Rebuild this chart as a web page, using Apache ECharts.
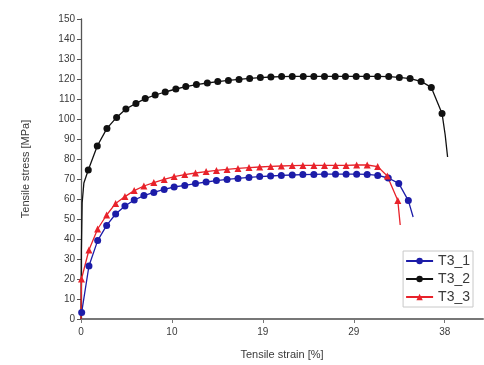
<!DOCTYPE html>
<html>
<head>
<meta charset="utf-8">
<script src="https://cdn.jsdelivr.net/npm/echarts@6/dist/echarts.min.js"></script>
<style>
  html, body { margin: 0; padding: 0; background: #fff; }
  #chart { width: 484px; height: 365px; }
</style>
</head>
<body>
<div id="chart"></div>
<script>
// tick positions on the strain axis (labels are shown rounded)
const strainTicks = [0, 9.5, 19, 28.5, 38];

// T3_1 (blue circles)
const t31Strain = [0.07, 0.83, 1.74, 2.68, 3.62, 4.59, 5.56, 6.57, 7.61, 8.69, 9.73, 10.84, 11.96, 13.07, 14.15, 15.26, 16.4, 17.55, 18.67, 19.81, 20.93, 22.07, 23.18, 24.33, 25.44, 26.59, 27.7, 28.8, 29.9, 31.0, 32.1, 33.2, 34.2];
const t31Stress = [3.3, 26.5, 39.2, 46.8, 52.5, 56.5, 59.5, 61.7, 63.3, 64.8, 66, 66.8, 67.7, 68.5, 69.2, 69.8, 70.3, 70.8, 71.2, 71.5, 71.8, 72.0, 72.2, 72.3, 72.4, 72.4, 72.4, 72.4, 72.3, 71.8, 70.5, 67.8, 59.2];
const t31Tail = [[34.7, 51]];

// T3_2 (black circles)
const t32Head = [[0, 0], [0.04, 35], [0.12, 58], [0.3, 68]];
const t32Strain = [0.76, 1.70, 2.71, 3.72, 4.69, 5.74, 6.71, 7.75, 8.80, 9.91, 10.95, 12.06, 13.20, 14.29, 15.40, 16.51, 17.62, 18.74, 19.84, 20.96, 22.07, 23.22, 24.33, 25.44, 26.56, 27.63, 28.75, 29.85, 31.0, 32.15, 33.26, 34.38, 35.53, 36.60, 37.72];
const t32Stress = [74.5, 86.5, 95.3, 100.8, 105, 107.8, 110.2, 112, 113.5, 115, 116.2, 117.2, 118, 118.7, 119.3, 119.8, 120.3, 120.7, 121, 121.2, 121.3, 121.3, 121.3, 121.3, 121.3, 121.3, 121.3, 121.3, 121.3, 121.2, 120.8, 120.2, 118.8, 115.8, 102.8];
const t32Tail = [[38.05, 92], [38.3, 81]];

// T3_3 (red triangles)
const t33Head = [[0, 0]];
const t33Strain = [0.05, 0.83, 1.74, 2.68, 3.62, 4.59, 5.56, 6.57, 7.61, 8.69, 9.73, 10.84, 11.96, 13.07, 14.15, 15.26, 16.4, 17.55, 18.67, 19.81, 20.93, 22.07, 23.18, 24.33, 25.44, 26.59, 27.7, 28.8, 29.9, 31.0, 32.0, 33.1];
const t33Stress = [20, 34.5, 45, 52, 57.8, 61.2, 64.2, 66.5, 68.2, 69.8, 71.2, 72.2, 73, 73.7, 74.3, 74.8, 75.3, 75.7, 76.0, 76.3, 76.5, 76.7, 76.8, 76.8, 76.8, 76.8, 76.8, 77, 77, 76.2, 71.5, 59.2];
const t33Tail = [[33.35, 47]];

// curve points without a marker + the marked points
const buildData = (head, xs, ys, tail) => {
  const plain = p => ({ value: p, symbol: 'none' });
  const marked = xs.map((x, i) => [x, ys[i]]);
  return head.map(plain).concat(marked).concat(tail.map(plain));
};

const makeSeries = (name, color, symbol, data) => ({
  name: name,
  type: 'line',
  data: data,
  symbol: symbol,
  symbolSize: 7,
  showAllSymbol: true,
  lineStyle: { color: color, width: 1.3 },
  itemStyle: { color: color },
  emphasis: { disabled: true },
  animation: false
});

const chart = echarts.init(document.getElementById('chart'));

const textColor = '#3a3a3a';
const font = 'Liberation Sans, Arial, sans-serif';

chart.setOption({
  backgroundColor: '#fff',
  textStyle: { fontFamily: font },
  grid: { left: 81, right: 1, top: 19, bottom: 46 },
  legend: {
    orient: 'vertical',
    right: 11,
    bottom: 58,
    data: ['T3_1', 'T3_2', 'T3_3'],
    itemWidth: 27,
    itemHeight: 8,
    itemGap: 4,
    padding: [3, 3, 3, 2],
    borderColor: '#c8c8c8',
    borderWidth: 1,
    textStyle: { color: textColor, fontSize: 14, fontFamily: font }
  },
  xAxis: {
    type: 'value',
    min: 0,
    max: 42,
    name: 'Tensile strain [%]',
    nameLocation: 'middle',
    nameGap: 30,
    nameTextStyle: { color: textColor, fontSize: 11, fontFamily: font },
    axisLine: { lineStyle: { color: '#777', width: 2 } },
    axisTick: { customValues: strainTicks, length: 4, lineStyle: { color: '#777' } },
    axisLabel: {
      customValues: strainTicks,
      color: textColor,
      fontSize: 10,
      margin: 8,
      formatter: v => String(Math.round(v))
    },
    splitLine: { show: false }
  },
  yAxis: {
    type: 'value',
    min: 0,
    max: 150,
    interval: 10,
    name: 'Tensile stress [MPa]',
    nameLocation: 'middle',
    nameGap: 50,
    nameTextStyle: { color: textColor, fontSize: 11, fontFamily: font },
    axisLine: { show: true, lineStyle: { color: '#555', width: 1.3 } },
    axisTick: { show: true, length: 4, lineStyle: { color: '#555' } },
    axisLabel: { color: textColor, fontSize: 10, margin: 6 },
    splitLine: { show: false }
  },
  series: [
    makeSeries('T3_1', '#1c1ca8', 'circle', buildData([], t31Strain, t31Stress, t31Tail)),
    makeSeries('T3_2', '#111111', 'circle', buildData(t32Head, t32Strain, t32Stress, t32Tail)),
    makeSeries('T3_3', '#e8222a', 'triangle', buildData(t33Head, t33Strain, t33Stress, t33Tail))
  ]
});
</script>
</body>
</html>
